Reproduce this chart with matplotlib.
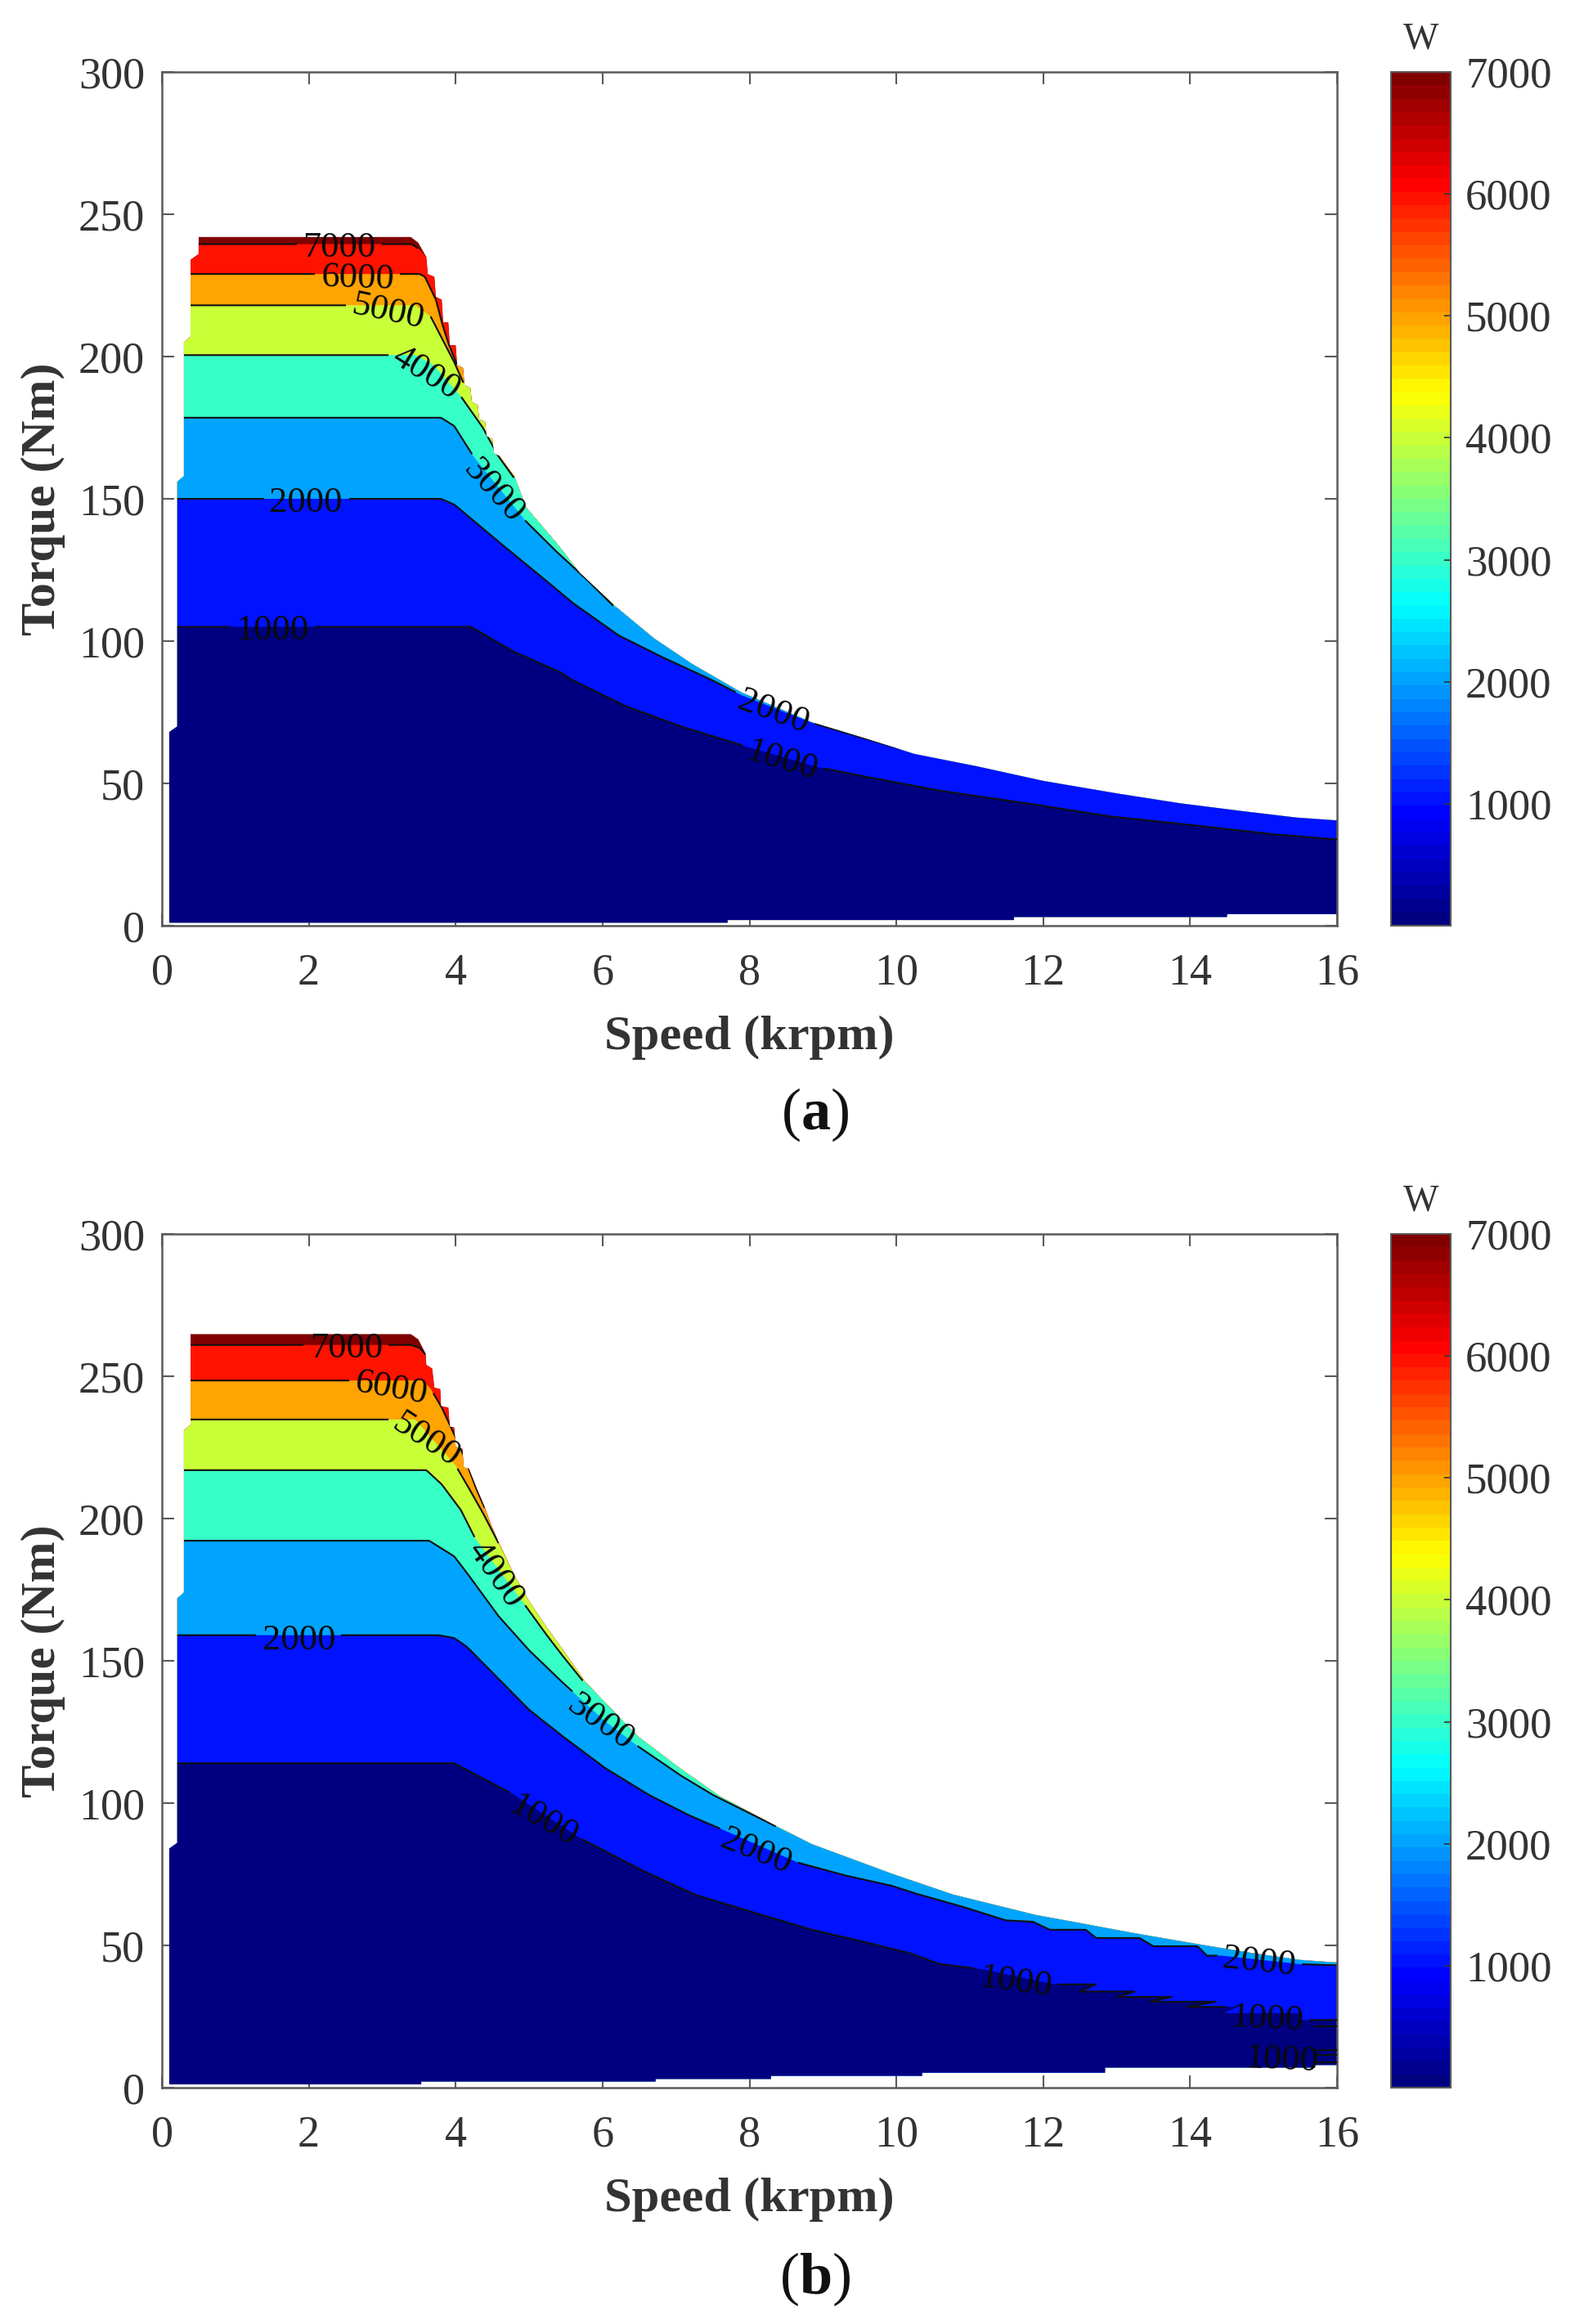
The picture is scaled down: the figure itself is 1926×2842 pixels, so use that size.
import matplotlib
matplotlib.use('Agg')
import matplotlib.pyplot as plt
from matplotlib.cm import ScalarMappable
from matplotlib.colors import ListedColormap, Normalize
import numpy as np

plt.rcParams['font.family'] = ['Liberation Serif', 'DejaVu Serif']
plt.rcParams['mathtext.fontset'] = 'custom'
plt.rcParams['mathtext.rm'] = 'Liberation Serif'
plt.rcParams['mathtext.bf'] = 'Liberation Serif:bold'

x_ticks = [0, 2, 4, 6, 8, 10, 12, 14, 16]
y_ticks = [0, 50, 100, 150, 200, 250, 300]
bar_ticks = [1000, 2000, 3000, 4000, 5000, 6000, 7000]
levels = [1000, 2000, 3000, 4000, 5000, 6000, 7000]

# panel (a), outer edge of the map
a_top_x = [0.1, 0.21, 0.21, 0.3, 0.3, 0.39, 0.39, 0.5, 0.5, 3.39, 3.49, 3.6, 3.62, 3.71, 3.73, 3.81, 3.83,
           3.9, 3.92, 4.0, 4.02, 4.1, 4.12, 4.2, 4.22, 4.3, 4.32, 4.4, 4.42, 4.5, 4.52, 4.6, 4.8, 4.96, 5.39,
           5.69, 6.2, 6.7, 7.22, 7.89, 8.85, 9.59, 10.24, 11.1, 12.0, 13.0, 13.87, 14.7, 15.45, 16.0]
a_top_y = [68, 70, 156, 158, 205, 207, 234, 236, 242, 242, 240, 235, 229, 228, 221, 220, 212,
           212, 204, 204, 197, 196, 190, 189, 184, 183, 178, 177, 172, 171, 166, 165, 158, 147, 134,
           124, 111.7, 101, 92, 82, 71.5, 65.7, 60.4, 56, 50.9, 46.5, 43, 40.3, 38, 37]
a_bottom_x = [16.0, 14.5, 14.5, 11.6, 11.6, 7.7, 7.7, 0.1]
a_bottom_y = [4.1, 4.1, 3.1, 3.1, 2.0, 2.0, 1.1, 1.1]

# panel (a), contour lines
a_x_1000 = [0, 4.21, 4.79, 5.43, 5.59, 6.33, 7.07, 7.96, 8.93, 9.59, 10.58, 11.83, 12.88, 13.94, 15.1, 16.0]
a_y_1000 = [105, 105, 96.3, 89, 86.3, 77, 70, 62.9, 55.7, 52.3, 47.5, 42.8, 38.5, 35.6, 32.2, 30.3]
a_x_2000 = [0, 3.8, 3.98, 4.58, 5.22, 5.59, 6.22, 6.81, 7.45, 7.89, 8.85, 10.04]
a_y_2000 = [150, 150, 148, 135, 121.5, 113.5, 102, 94.4, 86.8, 81, 71.3, 62.2]
a_x_3000 = [0, 3.8, 3.98, 4.24, 4.96, 5.35, 5.77, 6.15]
a_y_3000 = [178.5, 178.5, 175.6, 165, 142, 132, 122, 112.3]
a_x_4000 = [0, 3.45, 3.7, 4.07, 4.37, 4.58, 4.79]
a_y_4000 = [200.5, 200.5, 197, 186, 175, 165, 157.5]
a_x_5000 = [0, 3.45, 3.66, 3.98, 4.1]
a_y_5000 = [218, 218, 214, 198, 191]
a_x_6000 = [0, 3.51, 3.58, 3.73, 3.81, 3.9, 4.02]
a_y_6000 = [229, 229, 228, 220, 212, 204.6, 197]
a_x_7000 = [0, 3.4, 3.49]
a_y_7000 = [239.5, 239.5, 238]

# panel (a), contour labels
a_label_level = [7000, 6000, 5000, 4000, 3000, 2000, 1000, 2000, 1000]
a_label_x = [2.41, 2.66, 3.09, 3.62, 4.56, 1.96, 1.5, 8.34, 8.45]
a_label_y = [239.4, 228.8, 217, 195.3, 153.5, 150, 105, 76.2, 59]
a_label_angle = [0, -2, -12, -32, -48, 0, 0, -20, -17]

# panel (b), outer edge of the map
b_top_x = [0.1, 0.21, 0.21, 0.3, 0.3, 0.39, 0.39, 3.39, 3.49, 3.59, 3.6, 3.68, 3.71, 3.79, 3.8, 3.9, 3.92,
           3.98, 4.0, 4.09, 4.11, 4.18, 4.28, 4.39, 4.48, 4.58, 4.8, 5.0, 5.22, 5.43, 5.77, 6.48, 7.07, 7.6,
           8.37, 8.85, 9.93, 10.77, 11.9, 12.41, 13.2, 14.05, 14.85, 15.5, 16.0]
b_top_y = [84, 86, 172, 174, 231, 233, 264.8, 264.8, 263, 258, 254, 252.7, 246, 245.5, 239.5, 239, 232.3,
           232, 225.2, 224.5, 218, 217.5, 211, 204.3, 198, 192, 180, 171, 162.5, 155, 142.5, 123.5, 112, 102.4,
           91.9, 85.6, 75.3, 67.9, 60.7, 58.3, 54.5, 50.7, 47.3, 44.9, 44]
b_bottom_x = [16.0, 15.7, 15.7, 12.84, 12.84, 10.35, 10.35, 8.29, 8.29, 6.72, 6.72, 3.53, 3.53, 0.1]
b_bottom_y = [8, 8, 7.1, 7.1, 5.3, 5.3, 4.2, 4.2, 3.1, 3.1, 2.2, 2.2, 1.15, 1.15]

# panel (b), contour lines
b_x_1000 = [0, 3.98, 4.79, 5.7, 6.52, 7.26, 8.0, 8.85, 9.39, 10.18, 10.58, 11.17, 12.15, 12.72, 12.5, 13.25, 13.0,
            13.75, 13.45, 14.35, 13.95, 14.65, 14.45, 15.5, 15.5, 16.0]
b_y_1000 = [114, 114, 103, 87.6, 76.6, 67.8, 62, 55.5, 52.3, 47.3, 43.5, 41.6, 36.3, 36.3, 33.8, 33.8, 31.9,
            31.9, 30.2, 30.2, 28.4, 28.4, 26.2, 26.2, 23.8, 23.8]
b_x_2000 = [0, 3.77, 3.98, 4.15, 4.58, 5.0, 5.43, 6.03, 6.63, 7.18, 7.74, 8.67, 9.3, 9.93, 10.24, 10.9, 11.49, 11.86,
            12.09, 12.58, 12.72, 13.31, 13.5, 14.1, 14.23, 14.43, 15.5, 16.0]
b_y_2000 = [159, 159, 158, 155, 143.8, 132.8, 124, 112.4, 102.9, 95.7, 89.5, 79, 74.6, 71, 68.4, 63.6, 58.8, 58.3,
            55.5, 55.5, 52.6, 52.6, 49.7, 49.7, 46.4, 46.4, 43.4, 43]
b_x_3000 = [0, 3.64, 3.98, 4.15, 4.58, 5.0, 5.43, 6.01, 6.48, 7.07, 7.5, 8.37]
b_y_3000 = [192.2, 192.2, 186.7, 181, 165.8, 153.7, 143, 129.3, 120, 109.6, 102.9, 91.7]
b_x_4000 = [0, 3.6, 3.81, 4.07, 4.26, 4.96, 5.22, 5.43, 5.73]
b_y_4000 = [217, 217, 212, 203, 193.3, 169, 159.7, 152.6, 143]
b_x_5000 = [0, 3.45, 4.0, 4.15, 4.37, 4.58]
b_y_5000 = [234.8, 234.8, 218.6, 212, 202, 191.5]
b_x_6000 = [0, 3.55, 3.66, 3.81, 3.98, 4.11, 4.28, 4.39]
b_y_6000 = [248.5, 248.5, 245.6, 239, 229.6, 222, 210.5, 204]
b_x_7000 = [0, 3.39, 3.51, 3.59]
b_y_7000 = [261, 261, 260, 257.6]

# short stubs that matlab left at the right edge of (b)
b_stub_x = [15.7, 16.0]
b_stub_y = [[21.5, 21.5], [13.3, 13.3], [11.6, 11.6], [9, 9]]

# panel (b), contour labels
b_label_level = [7000, 6000, 5000, 4000, 3000, 2000, 1000, 2000, 1000, 2000, 1000, 1000]
b_label_x = [2.51, 3.13, 3.62, 4.58, 6.01, 1.87, 5.22, 8.11, 11.63, 14.94, 15.05, 15.25]
b_label_y = [261, 247, 228.5, 181.2, 129.3, 158.6, 95, 84.2, 38.2, 45.4, 25.3, 10.9]
b_label_angle = [0, -10, -33, -55, -35, 0, -30, -22, -8, -6, -3, -3]

W, H = 1926, 2842
PX_X = 89.8   # pixels per krpm
PX_Y = 3.48   # pixels per Nm
GREY = '#5a5a5a'
TEXT = '#333333'


def matlab_jet(v):
    # matlab's jet, matplotlib's own has its knees in other places
    r = np.interp(v, [0, 0.375, 0.625, 0.875, 1], [0, 0, 1, 1, 0.5])
    g = np.interp(v, [0, 0.125, 0.375, 0.625, 0.875, 1], [0, 0, 1, 1, 0, 0])
    b = np.interp(v, [0, 0.125, 0.375, 0.625, 1], [0.5, 1, 1, 0, 0])
    return np.column_stack([r, g, b])


def level_color(level):
    return matlab_jet([level / 7000])[0]


def add_axes(left, top, right, bottom):
    return fig.add_axes([left / W, 1 - bottom / H, (right - left) / W, (bottom - top) / H])


def line_with_gaps(x, y, spots):
    # resample the line and blank it around the labels, like clabel does
    x = np.asarray(x, float)
    y = np.asarray(y, float)
    step = np.hypot(np.diff(x) * PX_X, np.diff(y) * PX_Y)
    dist = np.r_[0, np.cumsum(step)]
    t = np.arange(0, dist[-1], 2.0)
    xs = np.interp(t, dist, x)
    ys = np.interp(t, dist, y)
    for sx, sy in spots:
        hide = np.hypot((xs - sx) * PX_X, (ys - sy) * PX_Y) < 52
        ys[hide] = np.nan
    return xs, ys


def draw_panel(ax, top_x, top_y, bottom_x, bottom_y, curves, lab_level, lab_x, lab_y, lab_angle):
    edge_x = list(top_x) + list(bottom_x)
    edge_y = list(top_y) + list(bottom_y)
    edge = ax.fill(edge_x, edge_y, color=level_color(7000), lw=0, zorder=1)[0]

    # paint from the top level down, each band covers what is below its upper line
    for level in levels[::-1]:
        cx, cy = curves[level]
        rest = [i for i, v in enumerate(top_x) if v > cx[-1]]
        px = list(cx) + [top_x[i] for i in rest] + [16, 0]
        py = list(cy) + [top_y[i] for i in rest] + [0, 0]
        band = ax.fill(px, py, color=level_color(level - 1000), lw=0, zorder=2)[0]
        band.set_clip_path(edge)

    for level in levels:
        cx, cy = curves[level]
        spots = [(a, b) for l, a, b in zip(lab_level, lab_x, lab_y) if l == level]
        xs, ys = line_with_gaps(cx, cy, spots)
        ln, = ax.plot(xs, ys, color='#101010', lw=1.5, zorder=3)
        ln.set_clip_path(edge)

    for l, a, b, ang in zip(lab_level, lab_x, lab_y, lab_angle):
        ax.text(a, b, str(l), fontsize=32, color='#0a0a0a', ha='center', va='center_baseline',
                rotation=ang, rotation_mode='anchor', zorder=4)

    ax.set_xlim(0, 16)
    ax.set_ylim(0, 300)
    ax.set_xticks(x_ticks)
    ax.set_yticks(y_ticks)
    ax.tick_params(axis='both', direction='in', length=11, width=1.5, color=GREY, top=True, right=True,
                   labelsize=39, labelcolor=TEXT)
    ax.tick_params(axis='x', pad=24)
    ax.tick_params(axis='y', pad=15)
    for s in ax.spines.values():
        s.set_color(GREY)
        s.set_linewidth(1.8)
    ax.set_xlabel('Speed (krpm)', fontsize=43.5, fontweight='bold', color=TEXT)
    ax.xaxis.set_label_coords(0.5, -0.105)
    ax.set_ylabel('Torque (Nm)', fontsize=43.5, fontweight='bold', color=TEXT)
    ax.yaxis.set_label_coords(-0.082, 0.5)


def draw_bar(cax):
    jet64 = ListedColormap(matlab_jet(np.linspace(0, 1, 64)))
    cb = fig.colorbar(ScalarMappable(Normalize(0, 7000), cmap=jet64), cax=cax)
    cb.set_ticks(bar_ticks)
    cb.ax.tick_params(direction='in', length=6, width=1.2, color='#333333', labelsize=38, labelcolor=TEXT, pad=13)
    cb.outline.set_edgecolor(GREY)
    cb.outline.set_linewidth(1.5)
    cax.text(0.5, 1.018, 'W', transform=cax.transAxes, fontsize=33, color=TEXT, ha='center', va='bottom')


fig = plt.figure(figsize=(W / 100, H / 100), dpi=100)

ax_a = add_axes(198, 88, 1635, 1132)
curves_a = {1000: (a_x_1000, a_y_1000), 2000: (a_x_2000, a_y_2000), 3000: (a_x_3000, a_y_3000),
            4000: (a_x_4000, a_y_4000), 5000: (a_x_5000, a_y_5000), 6000: (a_x_6000, a_y_6000),
            7000: (a_x_7000, a_y_7000)}
draw_panel(ax_a, a_top_x, a_top_y, a_bottom_x, a_bottom_y, curves_a,
           a_label_level, a_label_x, a_label_y, a_label_angle)
draw_bar(add_axes(1701, 88, 1774, 1132))

ax_b = add_axes(198, 1509, 1635, 2553)
curves_b = {1000: (b_x_1000, b_y_1000), 2000: (b_x_2000, b_y_2000), 3000: (b_x_3000, b_y_3000),
            4000: (b_x_4000, b_y_4000), 5000: (b_x_5000, b_y_5000), 6000: (b_x_6000, b_y_6000),
            7000: (b_x_7000, b_y_7000)}
draw_panel(ax_b, b_top_x, b_top_y, b_bottom_x, b_bottom_y, curves_b,
           b_label_level, b_label_x, b_label_y, b_label_angle)
for stub in b_stub_y:
    ax_b.plot(b_stub_x, stub, color='#101010', lw=1.5, zorder=3)
draw_bar(add_axes(1701, 1509, 1774, 2553))

fig.text(997 / W, 1 - 1363 / H, r'($\mathbf{a}$)', fontsize=52, color='#111111', ha='center', va='center')
fig.text(997 / W, 1 - 2787 / H, r'($\mathbf{b}$)', fontsize=52, color='#111111', ha='center', va='center')

fig.savefig('out.png', dpi=100)
